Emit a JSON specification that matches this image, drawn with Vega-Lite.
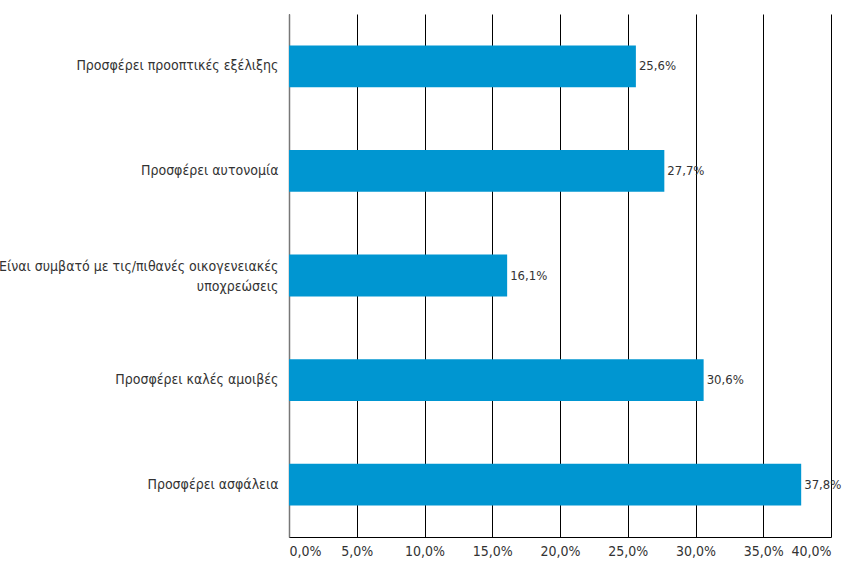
{
  "$schema": "https://vega.github.io/schema/vega-lite/v6.json",
  "width": 542,
  "height": 523,
  "autosize": "none",
  "padding": {"left": 289, "top": 14, "right": 15, "bottom": 25},
  "background": "white",
  "config": {"view": {"stroke": null}, "font": "DejaVu Sans Condensed"},
  "data": {"values": [
    {"cat": "Προσφέρει προοπτικές εξέλιξης", "v": 25.6},
    {"cat": "Προσφέρει αυτονομία", "v": 27.7},
    {"cat": "Είναι συμβατό με τις/πιθανές οικογενειακές|υποχρεώσεις", "v": 16.1},
    {"cat": "Προσφέρει καλές αμοιβές", "v": 30.6},
    {"cat": "Προσφέρει ασφάλεια", "v": 37.8}
  ]},
  "transform": [{"calculate": "replace(format(datum.v, '.1f'), '.', ',') + '%'", "as": "lbl"}],
  "encoding": {
    "y": {"field": "cat", "type": "nominal",
      "sort": ["Προσφέρει προοπτικές εξέλιξης", "Προσφέρει αυτονομία", "Είναι συμβατό με τις/πιθανές οικογενειακές|υποχρεώσεις", "Προσφέρει καλές αμοιβές", "Προσφέρει ασφάλεια"],
      "scale": {"paddingInner": 0.6, "paddingOuter": 0.3},
      "axis": {"title": null, "labelExpr": "split(datum.label, '|')", "labelFontSize": 14, "labelColor": "#333333",
        "labelOffset": {"expr": "indexof(datum.value, '|') >= 0 ? -9 : 0"},
        "labelPadding": 11, "ticks": false, "domainColor": "#777777", "domainWidth": 1.5, "labelLimit": 300, "labelLineHeight": 20}},
    "x": {"field": "v", "type": "quantitative", "scale": {"domain": [0, 40], "nice": false},
      "axis": {"title": null, "values": [0,5,10,15,20,25,30,35,40], "labelExpr": "replace(format(datum.value, '.1f'), '.', ',') + '%'",
        "grid": true, "gridColor": "#000000", "gridWidth": 1, "ticks": false, "domainColor": "#000000", "domainWidth": 1,
        "labelFontSize": 14, "labelColor": "#333333", "labelPadding": 7}}
  },
  "layer": [
    {"mark": {"type": "bar", "color": "#0096D1"}},
    {"mark": {"type": "text", "align": "left", "dx": 3, "fontSize": 13, "color": "#333333"},
      "encoding": {"text": {"field": "lbl", "type": "nominal"}}}
  ]
}
